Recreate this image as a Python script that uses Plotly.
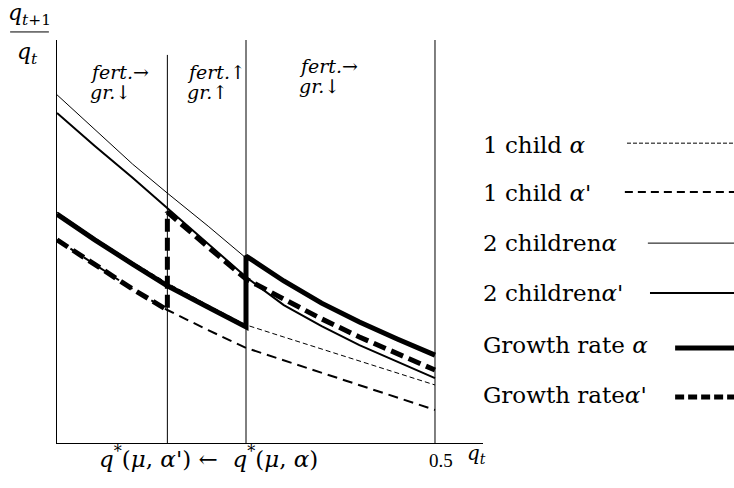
import plotly.graph_objects as go

# ---- data (schematic values) ----
q = [0.0, 0.05, 0.10, 0.146, 0.20, 0.25, 0.30, 0.35, 0.40, 0.45, 0.50]
two_children_alpha = [0.864, 0.777, 0.692, 0.620, 0.538, 0.459, 0.402, 0.347, 0.300, 0.258, 0.218]
two_children_alpha_p = [0.819, 0.737, 0.658, 0.583, 0.494, 0.412, 0.342, 0.290, 0.243, 0.201, 0.161]
one_child_alpha = [0.573, 0.509, 0.449, 0.397, 0.342, 0.293, 0.263, 0.233, 0.203, 0.174, 0.144]
one_child_alpha_p = [0.504, 0.442, 0.382, 0.330, 0.280, 0.236, 0.205, 0.174, 0.143, 0.112, 0.082]

growth_alpha_q = [0.0, 0.05, 0.10, 0.146, 0.20, 0.25, 0.25, 0.30, 0.35, 0.40, 0.45, 0.50]
growth_alpha = [0.568, 0.504, 0.444, 0.390, 0.337, 0.288, 0.464, 0.402, 0.347, 0.300, 0.258, 0.218]
growth_alpha_p_q = [0.0, 0.05, 0.10, 0.146, 0.146, 0.20, 0.25, 0.30, 0.35, 0.40, 0.45, 0.50]
growth_alpha_p = [0.504, 0.442, 0.382, 0.330, 0.573, 0.486, 0.407, 0.357, 0.308, 0.263, 0.221, 0.181]

thresholds = [0.146, 0.25, 0.50]   # q*(mu,alpha'), q*(mu,alpha), 0.5
x_tick_vals = [0.5]
x_tick_text = ["0.5"]

legend_labels = ["1 child <i>α</i>", "1 child <i>α</i>'", "2 children<i>α</i>",
                 "2 children<i>α</i>'", "Growth rate <i>α</i>", "Growth rate<i>α</i>'"]

SERIF = "DejaVu Serif"

fig = go.Figure()

styles = [
    (q, two_children_alpha, dict(color="black", width=1)),
    (q, two_children_alpha_p, dict(color="black", width=2)),
    (q, one_child_alpha, dict(color="black", width=1, dash="5px,3px")),
    (q, one_child_alpha_p, dict(color="black", width=2, dash="10px,6px")),
    (growth_alpha_q, growth_alpha, dict(color="black", width=5)),
    (growth_alpha_p_q, growth_alpha_p, dict(color="black", width=5, dash="13px,6px")),
]
for xs, ys, ln in styles:
    fig.add_trace(go.Scatter(x=xs, y=ys, mode="lines", line=ln, showlegend=False,
                             hoverinfo="skip"))

shapes = []
tops = [0.963, 1.0, 1.0]
for t, top in zip(thresholds, tops):
    shapes.append(dict(type="line", xref="x", yref="paper", x0=t, x1=t, y0=0, y1=top,
                       line=dict(color="black", width=1)))

# fraction bar for y label
shapes.append(dict(type="line", xref="paper", yref="paper", x0=-0.110, x1=-0.019,
                   y0=1.020, y1=1.020, line=dict(color="black", width=1)))

# manual legend samples (paper coords)
leg_y_text = [0.739, 0.620, 0.496, 0.372, 0.243, 0.119]
leg_y_line = [0.744, 0.623, 0.496, 0.372, 0.236, 0.114]
leg_x0 = [1.338, 1.333, 1.387, 1.392, 1.451, 1.451]
leg_lines = [dict(color="black", width=1, dash="4px,2px"),
             dict(color="black", width=2, dash="8px,5px"),
             dict(color="black", width=1),
             dict(color="black", width=2),
             dict(color="black", width=5),
             dict(color="black", width=5, dash="9px,4px")]
for yl, x0, ln in zip(leg_y_line, leg_x0, leg_lines):
    shapes.append(dict(type="line", xref="paper", yref="paper", x0=x0, x1=1.60,
                       y0=yl, y1=yl, line=ln))

ann = []
for lab, yt in zip(legend_labels, leg_y_text):
    ann.append(dict(text=lab, xref="paper", yref="paper", x=0.995, y=yt,
                    xanchor="left", yanchor="middle", showarrow=False,
                    font=dict(family=SERIF, size=23, color="black")))

region_notes = [(0.041, 0.920, 0.870, "fert.→", "gr.↓"),
                (0.169, 0.920, 0.870, "fert.↑", "gr.↑"),
                (0.317, 0.935, 0.885, "fert.→", "gr.↓")]
for xx, y1, y2, t1, t2 in region_notes:
    ann.append(dict(text="<i>" + t1 + "</i>", xref="x", yref="paper", x=xx, y=y1,
                    xanchor="left", yanchor="middle", showarrow=False,
                    font=dict(family=SERIF, size=19, color="black")))
    ann.append(dict(text="<i>" + t2 + "</i>", xref="x", yref="paper", x=xx, y=y2,
                    xanchor="left", yanchor="middle", showarrow=False,
                    font=dict(family=SERIF, size=19, color="black")))

# y label (fraction)
ann.append(dict(text="<i>q</i><sub><i>t</i>+1</sub>", xref="paper", yref="paper",
                x=-0.065, y=1.026, xanchor="center", yanchor="bottom", showarrow=False,
                borderpad=0, font=dict(family=SERIF, size=22, color="black")))
ann.append(dict(text="<i>q</i><sub><i>t</i></sub>", xref="paper", yref="paper",
                x=-0.070, y=0.967, xanchor="center", yanchor="middle", showarrow=False,
                font=dict(family=SERIF, size=22, color="black")))
# x label
ann.append(dict(text="<i>q</i><sub><i>t</i></sub>", xref="paper", yref="paper",
                x=0.984, y=-0.027, xanchor="center", yanchor="middle", showarrow=False,
                font=dict(family=SERIF, size=20, color="black")))
# threshold label
ann.append(dict(text="<i>q</i><sup>*</sup>(<i>μ</i>, <i>α</i>') ←  <i>q</i><sup>*</sup>(<i>μ</i>, <i>α</i>)",
                xref="x", yref="paper", x=0.201, y=-0.035, xanchor="center",
                yanchor="middle", showarrow=False,
                font=dict(family=SERIF, size=23, color="black")))

fig.update_layout(
    width=734, height=488,
    margin=dict(l=57, r=251, t=40, b=45),
    paper_bgcolor="white", plot_bgcolor="white",
    showlegend=False,
    shapes=shapes, annotations=ann,
    xaxis=dict(range=[0, 0.5635], showgrid=False, zeroline=False, showline=True,
               linecolor="black", linewidth=1, ticks="", tickvals=x_tick_vals,
               ticktext=x_tick_text, ticklabelshift=6,
               tickfont=dict(family="Liberation Serif", size=19, color="black")),
    yaxis=dict(range=[0, 1], showgrid=False, zeroline=False, showline=True,
               linecolor="black", linewidth=1, showticklabels=False, ticks=""),
)

# remove the browser's default 8px body margin so the figure fills the window
fig.write_html("out.html", config={"displayModeBar": False},
               post_script="document.body.style.margin='0';document.body.style.overflow='hidden';")
